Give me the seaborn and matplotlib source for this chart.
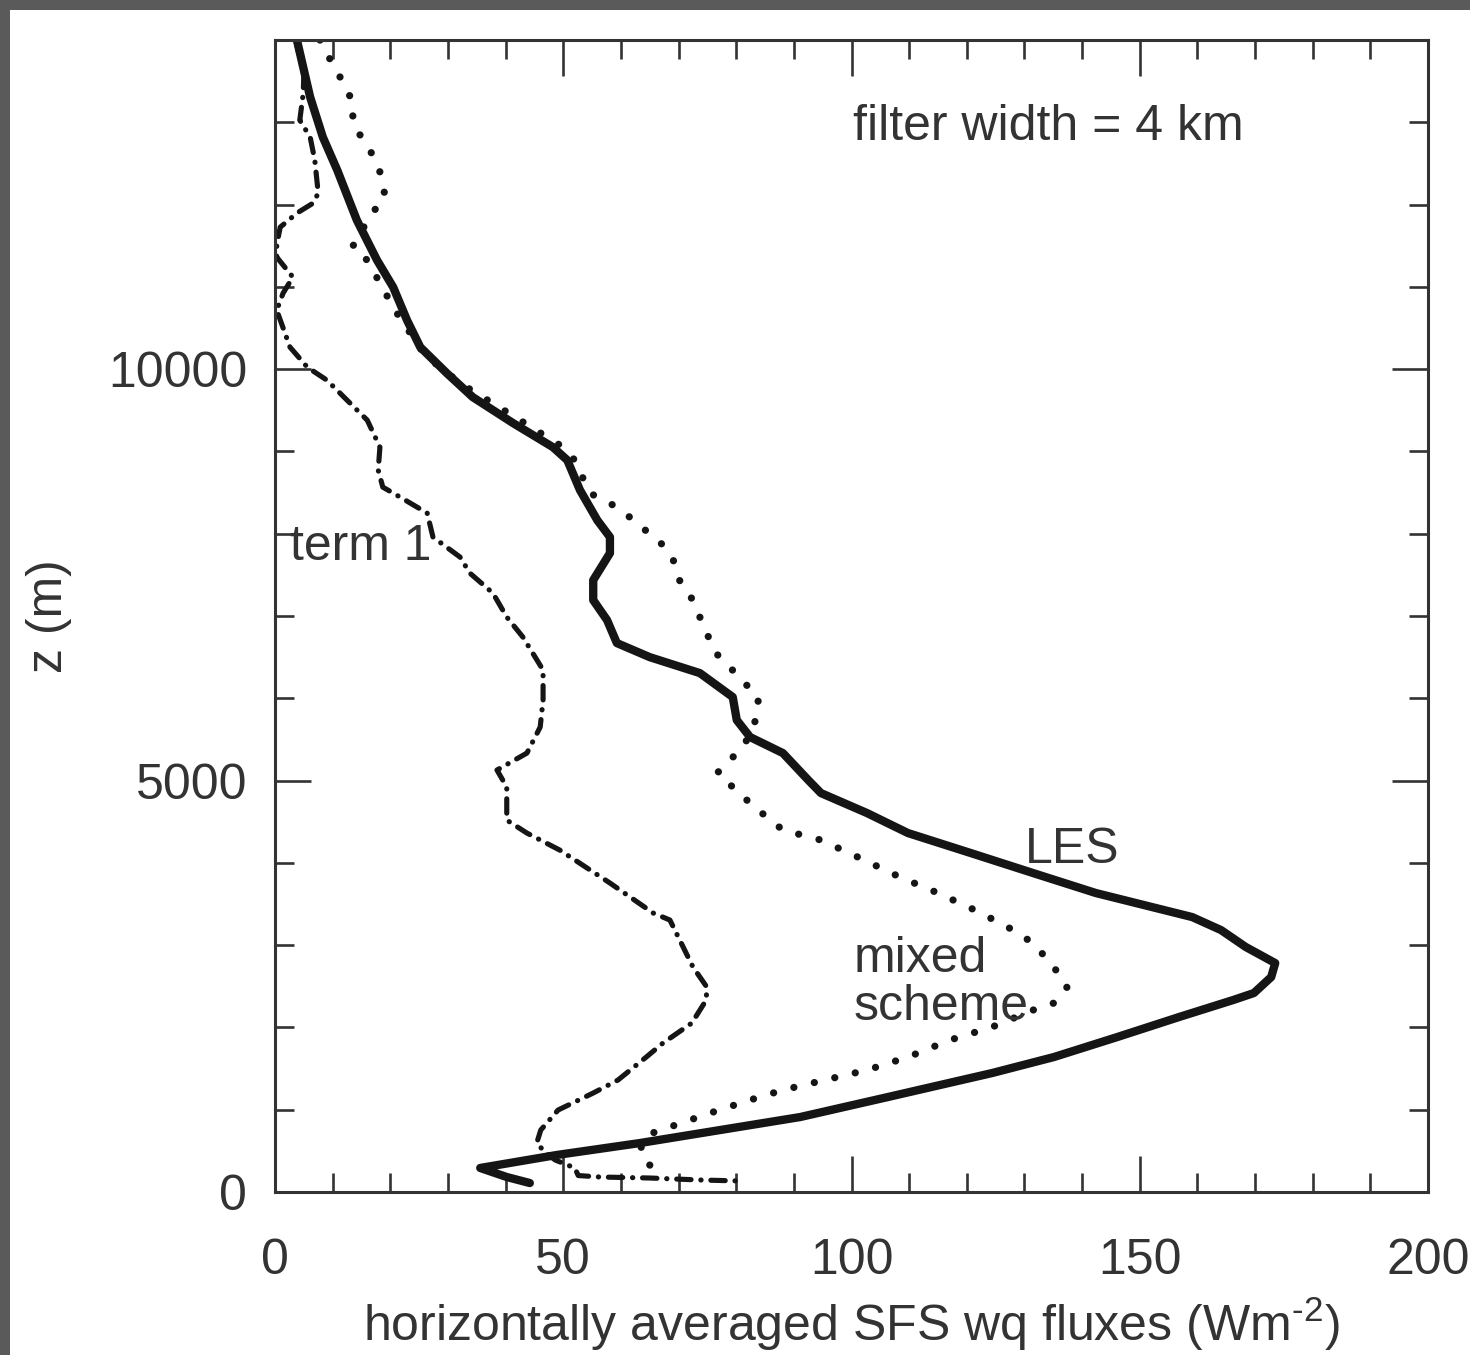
import numpy as np
import pandas as pd
import matplotlib
matplotlib.use("Agg")
import matplotlib.pyplot as plt
from matplotlib.patches import Rectangle
import seaborn as sns

# ---------------- data ----------------
les_flux = [3.8, 6.1, 8.3, 10.8, 14.2, 17.7, 20.5, 22.9, 25.2, 29.8, 34.3, 41.3, 48.2,
            50.7, 52.9, 55.9, 58.1, 58.1, 55.2, 55.2, 57.6, 59.3, 65.0, 73.7, 79.4, 80.1,
            82.4, 88.1, 92.5, 94.7, 102.7, 109.8, 120.7, 131.5, 142.4, 159.1, 164.1, 168.4,
            173.5, 172.8, 169.8, 166.2, 156.8, 146.1, 135.1, 124.4, 106.3, 91.1, 63.3, 48.9,
            35.6, 40.2, 44.2]
les_z = [14000, 13305, 12819, 12418, 11810, 11324, 10996, 10595, 10267, 9951, 9660, 9344, 9052,
         8894, 8530, 8165, 7959, 7764, 7436, 7193, 6950, 6671, 6500, 6306, 6015, 5735,
         5529, 5334, 5006, 4848, 4605, 4362, 4119, 3876, 3633, 3341, 3183, 2977,
         2782, 2612, 2418, 2333, 2126, 1883, 1640, 1446, 1154, 911, 595, 450,
         292, 182, 109]

mixed_flux = [7.8, 9.9, 11.8, 13.5, 13.5, 15.3, 17.3, 18.6, 19.1, 16.8, 13.4, 16.0, 20.8,
              26.0, 32.1, 42.5, 49.4, 52.0, 54.6, 58.1, 61.1, 63.8, 66.8, 69.0, 69.9, 72.0,
              73.4, 74.9, 76.3, 78.9, 81.2, 83.8, 83.8, 82.7, 81.2, 78.9, 76.7, 79.4, 82.4,
              85.3, 88.1, 94.7, 101.1, 108.4, 115.0, 121.4, 127.1, 131.5, 135.1, 137.4, 135.1,
              131.5, 124.4, 117.1, 109.8, 102.7, 95.4, 88.1, 82.4, 75.5, 68.5, 64.5, 63.3,
              65.0, 66.0]
mixed_z = [14000, 13718, 13487, 13244, 12989, 12783, 12564, 12321, 12078, 11896, 11482, 11324, 10717,
           10170, 9830, 9380, 9077, 8894, 8493, 8372, 8226, 8068, 7898, 7704, 7460, 7254,
           7035, 6792, 6561, 6379, 6197, 6039, 5820, 5614, 5407, 5249, 5091, 4921, 4727,
           4556, 4399, 4277, 4070, 3827, 3633, 3426, 3220, 3026, 2734, 2491, 2296,
           2211, 2005, 1847, 1640, 1482, 1361, 1239, 1118, 960, 790, 693, 510,
           328, 243]

term1_flux = [3.6, 5.0, 4.9, 4.3, 6.1, 6.9, 7.5, 6.6, 3.8, 0.9, 0.3, 0.3, 3.1, 1.4, 0.3,
              2.6, 5.6, 9.0, 12.5, 16.0, 18.2, 17.9, 18.7, 21.7, 26.4, 27.4, 32.1, 33.8,
              37.8, 40.2, 43.0, 46.5, 46.5, 46.0, 43.7, 38.5, 40.2, 40.2, 43.7, 49.4, 58.1,
              65.6, 68.5, 70.8, 72.5, 74.9, 74.8, 72.3, 67.3, 64.4, 59.5, 55.2, 49.1, 46.1,
              45.4, 46.8, 48.6, 52.0, 52.6, 56.4, 65.0, 73.7, 80.7]
term1_z = [14000, 13572, 13354, 13026, 12819, 12540, 12139, 12017, 11896, 11725, 11507, 11361, 11118, 10923, 10717,
           10267, 10024, 9866, 9623, 9380, 9052, 8773, 8566, 8445, 8250, 7959, 7716, 7521,
           7278, 6987, 6744, 6343, 5978, 5650, 5334, 5128, 4921, 4520, 4362, 4155, 3755,
           3390, 3305, 2977, 2734, 2491, 2333, 2053, 1810, 1640, 1361, 1203, 996, 753,
           595, 486, 389, 292, 200, 182, 170, 146, 134]

x_ticks = [0, 50, 100, 150, 200]
y_ticks = [0, 5000, 10000]

# ---------------- style ----------------
sns.set_style("ticks")
plt.rcParams['font.family'] = ['Liberation Sans', 'DejaVu Sans']
plt.rcParams['mathtext.fontset'] = 'custom'
plt.rcParams['mathtext.rm'] = 'Liberation Sans'
plt.rcParams['mathtext.it'] = 'Liberation Sans'

W, H = 1470, 1355
fig = plt.figure(figsize=(W / 100, H / 100), dpi=100, facecolor='white')
# grey screenshot frame on top and left edges
fig.patches.append(Rectangle((0, 1 - 10 / H), 1, 10 / H, transform=fig.transFigure,
                             facecolor='#5a5a5a', edgecolor='none', zorder=-10))
fig.patches.append(Rectangle((0, 0), 10 / W, 1, transform=fig.transFigure,
                             facecolor='#5a5a5a', edgecolor='none', zorder=-10))

ax = fig.add_axes([275 / W, 1 - 1192 / H, (1428 - 275) / W, (1192 - 40) / H])
ax.set_facecolor('white')

ink = '#151515'
les_df = pd.DataFrame({'flux': les_flux, 'z': les_z})
mix_df = pd.DataFrame({'flux': mixed_flux, 'z': mixed_z})
t1_df = pd.DataFrame({'flux': term1_flux, 'z': term1_z})

sns.lineplot(data=mix_df, x='flux', y='z', sort=False, estimator=None, ax=ax, color=ink,
             linewidth=5.2, linestyle=(0, (0.01, 2.9)), dash_capstyle='round')
sns.lineplot(data=t1_df, x='flux', y='z', sort=False, estimator=None, ax=ax, color=ink,
             linewidth=3.7, linestyle=(0, (2.8, 1.9, 0.05, 1.9)), dash_capstyle='round')
sns.lineplot(data=les_df, x='flux', y='z', sort=False, estimator=None, ax=ax, color=ink,
             linewidth=6.0, solid_capstyle='round', solid_joinstyle='round')

ax.set_xlim(0, 200)
ax.set_ylim(0, 14000)
ax.set_xticks(x_ticks)
ax.set_yticks(y_ticks)
ax.set_xticks(np.arange(0, 201, 10), minor=True)
ax.set_yticks(np.arange(0, 14001, 1000), minor=True)

fs = 36
tc = '#333333'
ax.tick_params(which='both', direction='in', top=True, right=True, color=tc, width=1.9,
               labelsize=fs, labelcolor=tc)
ax.tick_params(axis='x', which='major', length=26, pad=33)
ax.tick_params(axis='y', which='major', length=26, pad=20)
ax.tick_params(which='minor', length=14)
for sp in ax.spines.values():
    sp.set_linewidth(2.2)
    sp.set_color(tc)

ax.set_xlabel(r'horizontally averaged SFS wq fluxes (Wm$^{\text{-2}}$)', fontsize=fs,
              color=tc, labelpad=8)
ax.set_ylabel('z (m)', fontsize=fs, color=tc, labelpad=26)

ax.text(100.3, 12782, 'filter width = 4 km', fontsize=fs, color=tc, ha='left', va='baseline')
ax.text(2.6, 7679, 'term 1', fontsize=fs, color=tc, ha='left', va='baseline')
ax.text(130.1, 3997, 'LES', fontsize=fs, color=tc, ha='left', va='baseline')
ax.text(100.3, 2673, 'mixed', fontsize=fs, color=tc, ha='left', va='baseline')
ax.text(100.3, 2090, 'scheme', fontsize=fs, color=tc, ha='left', va='baseline')

fig.savefig('out.png', dpi=100, facecolor=fig.get_facecolor())
